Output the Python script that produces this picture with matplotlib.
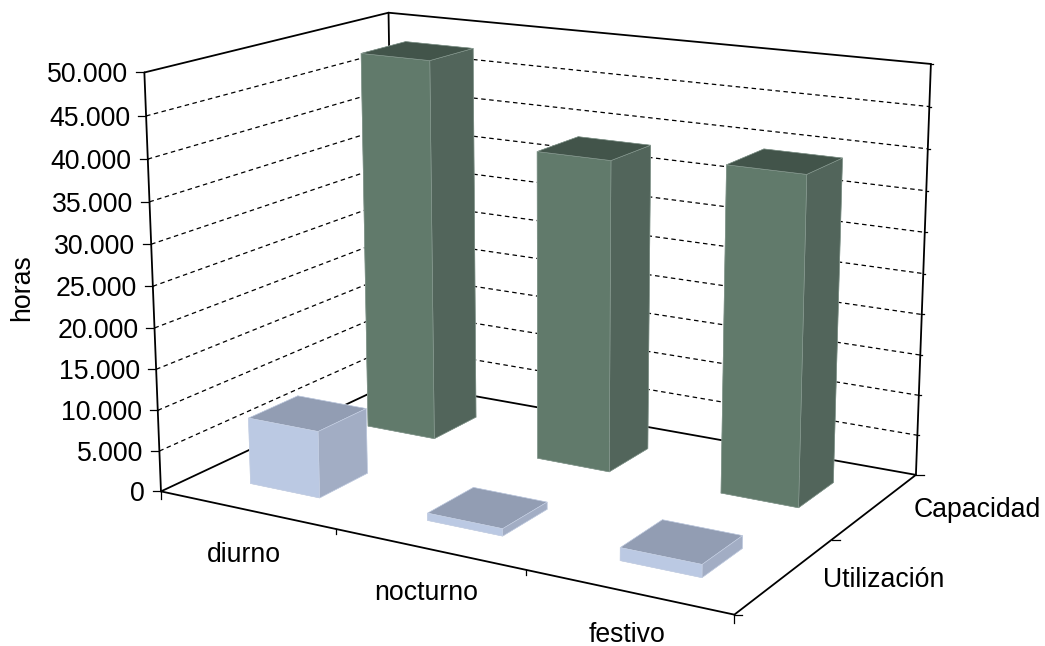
#!/usr/bin/env python3
"""Horas por franja: barras 3D con camara ajustada a la imagen."""
import matplotlib
matplotlib.use("Agg")
import matplotlib.pyplot as plt
import numpy as np
from matplotlib.lines import Line2D

W, H = 1045, 646

categories = ["diurno", "nocturno", "festivo"]
series = ["Utilización", "Capacidad"]
utilizacion = [8150, 880, 1510]
capacidad = [47950, 38350, 39500]
z_ticks = list(range(0, 50001, 5000))
z_labels = ["0", "5.000", "10.000", "15.000", "20.000", "25.000",
            "30.000", "35.000", "40.000", "45.000", "50.000"]

# Puntos de la caja: (x, y, z) -> pixel
ANCHORS = [
    (0, 0, 50000, 144, 72.3), (0, 0, 45000, 145.7, 116.3), (0, 0, 40000, 148.3, 158.3),
    (0, 0, 35000, 150.7, 201), (0, 0, 10000, 158.3, 410.3), (0, 0, 5000, 159.5, 451),
    (0, 0, 0, 160.7, 491.3), (0, 2, 50000, 387.7, 13), (3, 2, 50000, 931, 63),
    (3, 2, 45000, 929.4, 107.3), (3, 2, 40000, 927.9, 149.3), (3, 2, 35000, 926.3, 191.7),
    (3, 2, 30000, 924.8, 232.3), (3, 2, 0, 916, 473.7), (3, 0, 0, 733.3, 613.7),
    (1, 0, 0, 335.7, 530), (2, 0, 0, 525.7, 571.7), (3, 1, 0, 833, 539),
]


def fit_camera(anchors):
    """DLT: matriz 3x4 de (x, y, z) a pixel."""
    pts = np.array(anchors, float)
    scale = np.array([1, 1, 1e-4])
    rows = []
    for x, y, z, u, v in pts:
        X = np.array([x, y, z * 1e-4, 1])
        rows.append(np.r_[X, np.zeros(4), -u * X])
        rows.append(np.r_[np.zeros(4), X, -v * X])
    _, _, vt = np.linalg.svd(np.array(rows))
    P = vt[-1].reshape(3, 4)
    P = P @ np.diag([*scale, 1])
    return P / (P[2] @ np.array([1.5, 1, 25000, 1]))


CAM = fit_camera(ANCHORS)


def pixel(x, y, z):
    u, v, w = CAM @ np.array([x, y, z, 1.0])
    return u / w, v / w


fig = plt.figure(figsize=(W / 100, H / 100), dpi=100)
plt.rcParams["font.family"] = ["Liberation Sans", "DejaVu Sans"]
ax = fig.add_axes([0, (H - W) / 2 / H, 1, W / H], projection="3d")
ax.set_axis_off()
ax.patch.set_visible(False)
ax.computed_zorder = False
ax.set_xlim(0, 3)
ax.set_ylim(0, 2)
ax.set_zlim(0, 50000)


def camera_proj():
    flip = np.array([[1, 0, 0], [0, -1, H], [0, 0, 1.0]])
    Q = ax.transData.inverted().get_affine().get_matrix() @ flip @ CAM
    return np.array([Q[0], Q[1], [0, 0, 0, -1.0], Q[2]])


ax.get_proj = camera_proj

# Paredes y suelo
FRAME = dict(color="black", lw=1.3, zorder=1, solid_capstyle="round")
for xs, ys, zs in [
    ([0, 0, 3], [0, 2, 2], [50000, 50000, 50000]),
    ([0, 0], [0, 0], [0, 50000]),
    ([0, 0], [2, 2], [0, 50000]),
    ([3, 3], [2, 2], [0, 50000]),
    ([0, 3, 3, 0, 0], [0, 0, 2, 2, 0], [0, 0, 0, 0, 0]),
]:
    ax.plot(xs, ys, zs, **FRAME)
for z in z_ticks[1:-1]:
    ax.plot([0, 0, 3], [0, 2, 2], [z, z, z], color="black", lw=0.9,
            ls=(0, (3.6, 2.8)), zorder=1)

# Barras
BAR_W = 0.4
BAR_D = 0.4
xpos = np.arange(3) + (1 - BAR_W) / 2
GREEN = ["#42544a", "#42544a", "#617a6b", "#52655b", "#52655b", "#52655b"]
BLUE = ["#929db3", "#929db3", "#bbc9e3", "#a2adc4", "#a2adc4", "#a2adc4"]
ax.bar3d(xpos, np.full(3, 1.5 - BAR_D / 2), np.zeros(3), BAR_W, BAR_D, capacidad,
         color=GREEN * 3, shade=False, edgecolor="#8fa198", linewidth=0.4, zorder=2)
ax.bar3d(xpos, np.full(3, 0.5 - BAR_D / 2), np.zeros(3), BAR_W, BAR_D, utilizacion,
         color=BLUE * 3, shade=False, edgecolor="#c9d3e6", linewidth=0.4, zorder=3)


def tick(x0, y0, x1, y1, lw=0.9):
    fig.add_artist(Line2D([x0 / W, x1 / W], [1 - y0 / H, 1 - y1 / H], color="black",
                          lw=lw, transform=fig.transFigure))


def label(x, y, text, **kw):
    fig.text(x / W, 1 - y / H, text, fontsize=19.2, color="black", **kw)


for z, text in zip(z_ticks, z_labels):
    u, v = pixel(0, 0, z)
    tick(u - 8, v, u, v)
    label(u - 16, v, text, ha="right", va="center_baseline")
    u, v = pixel(3, 2, z)
    if z:
        tick(u, v, u + 2, v)
for i in range(4):
    u, v = pixel(i, 0, 0)
    tick(u, v, u, v + (8 if i in (0, 3) else 5))
for j in range(3):
    u, v = pixel(3, j, 0)
    tick(u, v, u + 8, v)

label(244, 552, categories[0], ha="center", va="center_baseline")
label(426, 590, categories[1], ha="center", va="center_baseline")
label(627, 632, categories[2], ha="center", va="center_baseline")
label(884, 577, series[0], ha="center", va="center_baseline")
label(977, 507, series[1], ha="center", va="center_baseline")
label(22, 288, "horas", rotation=90, ha="center", va="center")

fig.savefig("out.png", dpi=100)
